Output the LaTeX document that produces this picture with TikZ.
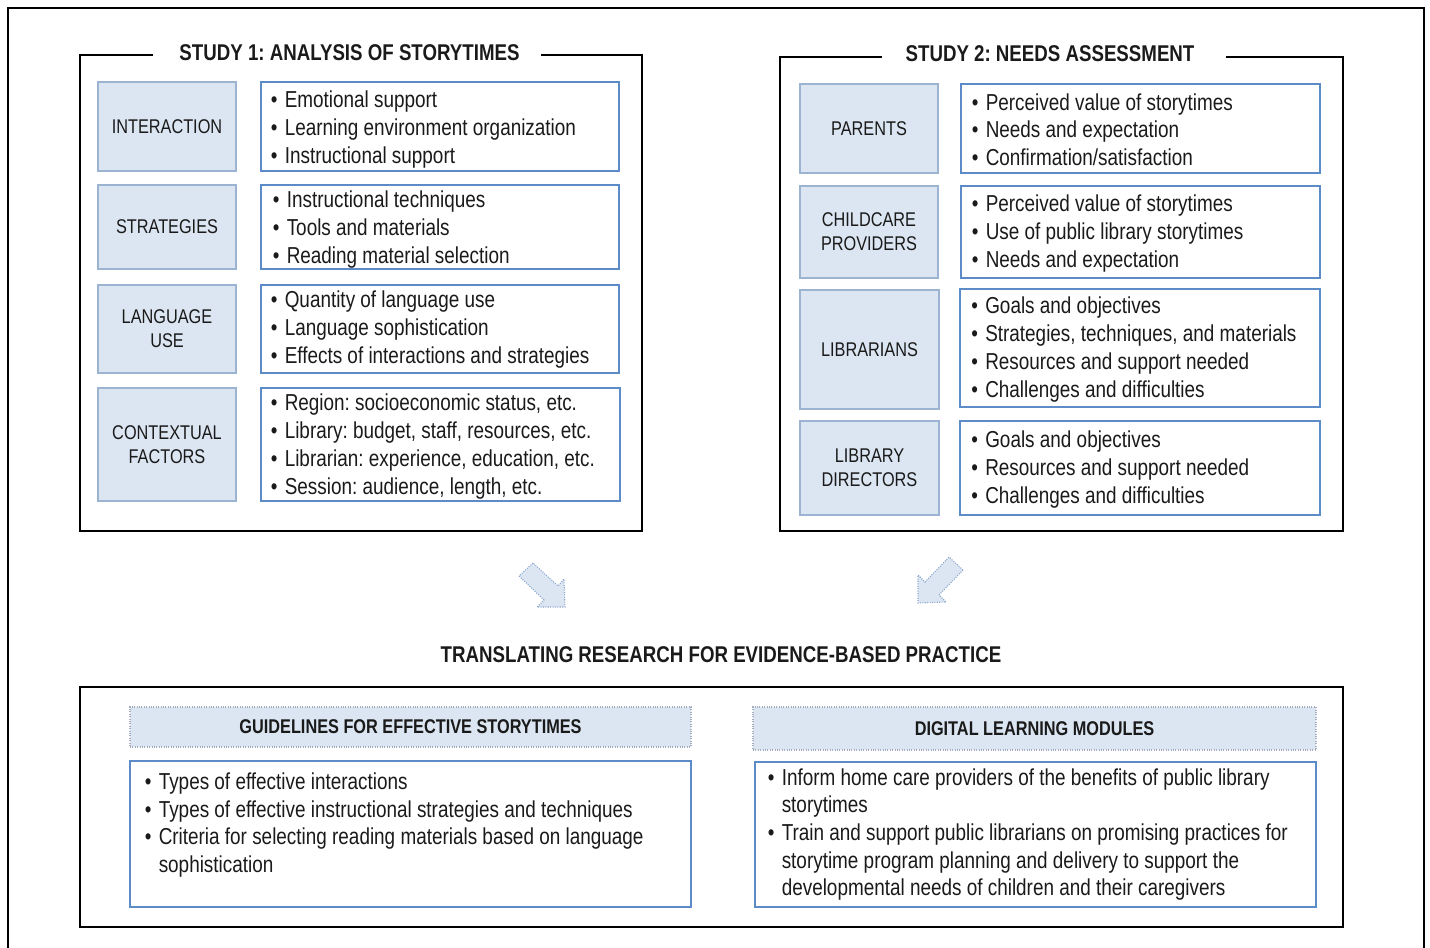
\documentclass[tikz,border=0pt]{standalone}
\usepackage{fontspec}
\setmainfont{Liberation Sans}[FakeStretch=0.82]
\frenchspacing
\definecolor{boxfill}{HTML}{DCE6F2}
\definecolor{labline}{HTML}{9DB3D2}
\definecolor{bulline}{HTML}{5B8CC8}
\definecolor{arrline}{HTML}{8AA6CC}
\definecolor{headline}{HTML}{A4AEBE}
\definecolor{ink}{HTML}{1A1A1A}
% bullet with fixed gap, and indent for continuation lines
\newcommand\dotmark{\makebox[10.5pt][l]{•}}
\newcommand\contind{\hspace*{10.5pt}}
\tikzset{
  sz/.style 2 args={minimum width=#1*0.75pt, minimum height=#2*0.75pt},
  frame/.style={draw=black, line width=1.5pt},
  lab/.style={draw=labline, fill=boxfill, line width=0.8pt, inner sep=0pt, align=center,
    text=ink, font=\fontsize{14.9}{18}\selectfont},
  bul/.style={draw=bulline, line width=0.9pt, inner sep=0pt},
  items/.style={anchor=west, inner sep=0pt, align=left, text=ink,
    font=\fontsize{17.3}{20.8}\selectfont},
  ttl/.style={inner sep=0pt, text=ink, font=\bfseries\fontsize{17.1}{20}\selectfont},
  head/.style={draw=headline, densely dotted, fill=boxfill, line width=0.8pt, inner sep=0pt,
    text=ink, font=\bfseries\fontsize{14.9}{18}\selectfont},
  blockarrow/.style={draw=arrline, densely dotted, fill=boxfill, line width=0.8pt},
}
\begin{document}
\begin{tikzpicture}[x=0.75pt,y=-0.75pt]
\useasboundingbox (0,0) rectangle (1430,947);
\clip (0,0) rectangle (1430,947);
% outer border
\draw[frame] (7.5,960) -- (7.5,7.5) -- (1424,7.5) -- (1424,960);

% ---- Study 1 ----
\draw[frame] (153,55) -| (80,531) -| (642,55) -- (541,55);
\node[ttl] (t1) at (349.5,53) {STUDY 1: ANALYSIS OF STORYTIMES};

\node[lab, sz={138}{89}] (a1) at (167,126.5) {INTERACTION};
\node[bul, sz={358}{89}] (b1) at (440,126.5) {};
\node[items] (c1) at (270.5,129.5) {\dotmark Emotional support\\\dotmark Learning environment organization\\\dotmark Instructional support};

\node[lab, sz={138}{84}] (a2) at (167,227) {STRATEGIES};
\node[bul, sz={358}{84}] (b2) at (440,227) {};
\node[items] (c2) at (272.5,229.5) {\dotmark Instructional techniques\\\dotmark Tools and materials\\\dotmark Reading material selection};

\node[lab, sz={138}{88}] (a3) at (167,329) {LANGUAGE\\USE};
\node[bul, sz={358}{88}] (b3) at (440,329) {};
\node[items] (c3) at (270.5,329.5) {\dotmark Quantity of language use\\\dotmark Language sophistication\\\dotmark Effects of interactions and strategies};

\node[lab, sz={138}{113}] (a4) at (167,444.5) {CONTEXTUAL\\FACTORS};
\node[bul, sz={359}{113}] (b4) at (440.5,444.5) {};
\node[items] (c4) at (270.5,446.5) {\dotmark Region: socioeconomic status, etc.\\\dotmark Library: budget, staff, resources, etc.\\\dotmark Librarian: experience, education, etc.\\\dotmark Session: audience, length, etc.};

% ---- Study 2 ----
\draw[frame] (882,57) -| (780,531) -| (1343,57) -- (1226,57);
\node[ttl] (t2) at (1050,54) {STUDY 2: NEEDS ASSESSMENT};

\node[lab, sz={138}{89}] (p1) at (869,128.5) {PARENTS};
\node[bul, sz={359}{89}] (q1) at (1140.5,128.5) {};
\node[items] (r1) at (971.5,129.5) {\dotmark Perceived value of storytimes\\\dotmark Needs and expectation\\\dotmark Confirmation/satisfaction};

\node[lab, sz={138}{92}] (p2) at (869,232) {CHILDCARE\\PROVIDERS};
\node[bul, sz={359}{92}] (q2) at (1140.5,232) {};
\node[items] (r2) at (971.5,233.5) {\dotmark Perceived value of storytimes\\\dotmark Use of public library storytimes\\\dotmark Needs and expectation};

\node[lab, sz={139}{119}] (p3) at (869.5,349.5) {LIBRARIANS};
\node[bul, sz={360}{118}] (q3) at (1140,348) {};
\node[items] (r3) at (971,349.5) {\dotmark Goals and objectives\\\dotmark Strategies, techniques, and materials\\\dotmark Resources and support needed\\\dotmark Challenges and difficulties};

\node[lab, sz={139}{94}] (p4) at (869.5,468) {LIBRARY\\DIRECTORS};
\node[bul, sz={360}{94}] (q4) at (1140,468) {};
\node[items] (r4) at (971,469.5) {\dotmark Goals and objectives\\\dotmark Resources and support needed\\\dotmark Challenges and difficulties};

% ---- block arrows ----
\draw[blockarrow] (533,563) -- (519,576) -- (544,600) -- (537,607) -- (565,607) -- (564,579) -- (558,586) -- cycle;
\draw[blockarrow] (963,570) -- (949,557) -- (925,582) -- (918,575) -- (918,603) -- (946,602) -- (939,595) -- cycle;

% ---- translation ----
\node[ttl] (tr) at (721,655) {TRANSLATING RESEARCH FOR EVIDENCE-BASED PRACTICE};
\draw[frame] (80,687) rectangle (1343,927);

\node[head, sz={561}{40}] (gh) at (410.5,727) {GUIDELINES FOR EFFECTIVE STORYTIMES};
\node[bul, sz={561}{146}] (gb) at (410.5,834) {};
\node[items] (gi) at (144.5,825) {\dotmark Types of effective interactions\\\dotmark Types of effective instructional strategies and techniques\\\dotmark Criteria for selecting reading materials based on language\\\contind sophistication};

\node[head, sz={563}{43}] (dh) at (1034.5,728.5) {DIGITAL LEARNING MODULES};
\node[bul, sz={561}{145}] (db) at (1035.5,834.5) {};
\node[items] (di) at (767.5,834.5) {\dotmark Inform home care providers of the benefits of public library\\\contind storytimes\\\dotmark Train and support public librarians on promising practices for\\\contind storytime program planning and delivery to support the\\\contind developmental needs of children and their caregivers};
\end{tikzpicture}
\end{document}
